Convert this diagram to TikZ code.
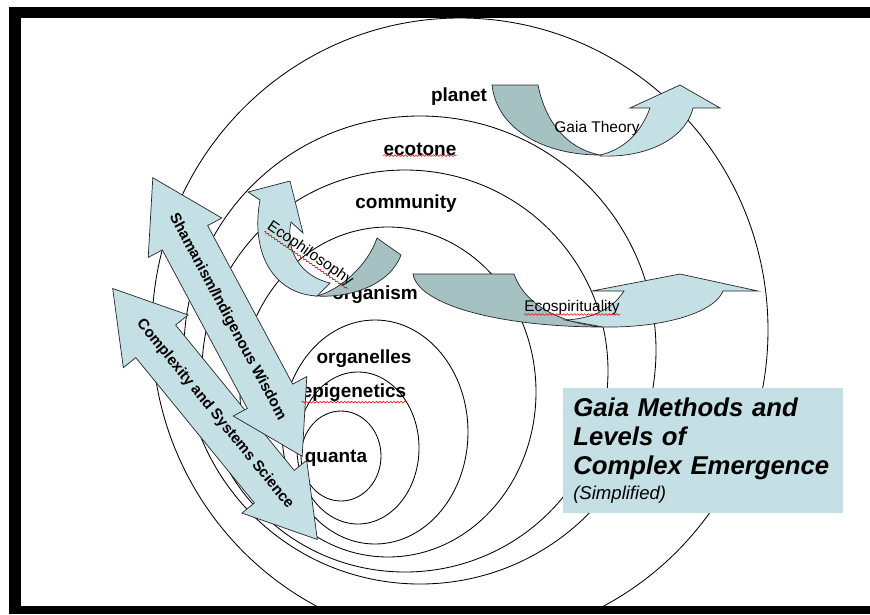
\documentclass[tikz,border=0pt]{standalone}
\usepackage{fontspec}
\setmainfont{Liberation Sans}
\usepackage{tikz}
\usetikzlibrary{shapes.arrows, decorations.pathmorphing}
\definecolor{arrowlight}{HTML}{C4E0E5}
\definecolor{arrowdark}{HTML}{A6C1C2}
\definecolor{titlefill}{HTML}{C4E0E5}

\begin{document}
\begin{tikzpicture}[
    x=0.025cm, y=-0.025cm,
    ring/.style={line width=0.6pt},
    lvl/.style={font=\fontsize{13.5}{16}\selectfont\bfseries, inner sep=0pt},
    banddark/.style={fill=arrowdark, draw=black!85, line width=0.5pt},
    bandlight/.style={fill=arrowlight, draw=black!85, line width=0.5pt},
    curvelabel/.style={font=\fontsize{11}{13}\selectfont, inner sep=0pt},
    methodarrow/.style={double arrow, draw=black!85, fill=arrowlight, line width=0.5pt,
        minimum height=7.67cm, double arrow head extend=0.4cm,
        double arrow tip angle=63, inner xsep=0pt, inner ysep=13pt,
        text height=7.8pt, text depth=2.3pt,
        font=\fontsize{10.7}{12}\selectfont\bfseries},
    titlebox/.style={anchor=north west, fill=titlefill, inner xsep=0.25cm, inner ysep=0pt,
        text width=6.5cm, minimum width=7cm, minimum height=3.125cm, align=left,
        font=\fontsize{18.3}{20.6}\selectfont\bfseries\itshape},
    squiggle/.style={red, line width=0.4pt, decorate,
        decoration={snake, amplitude=0.6pt, segment length=2.5pt}}
]
\useasboundingbox (0,0) rectangle (870,614);

% Levels of emergence
\begin{scope}
\clip (21,18) rectangle (870,606);
\draw[ring] (460,330) ellipse [x radius=308, y radius=312];
\draw[ring] (420,350) ellipse [x radius=236, y radius=234];
\draw[ring] (405,371) ellipse [x radius=203, y radius=201];
\draw[ring] (388,392) ellipse [x radius=148, y radius=165];
\draw[ring] (375,432) ellipse [x radius=93, y radius=112];
\draw[ring] (358,448) ellipse [x radius=61, y radius=76];
\draw[ring] (341,456) ellipse [x radius=40, y radius=45];
\end{scope}

\node[lvl] (planet) at (459,97) {planet};
\node[lvl] (ecotone) at (420,149) {ecotone};
\node[lvl] (community) at (406,204) {community};
\node[lvl] (organism) at (375,295) {organism};
\node[lvl] (organelles) at (364,359) {organelles};
\node[lvl] (epigen) at (354,393) {epigenetics};
\node[lvl] (quanta) at (336,458) {quanta};

% Gaia Theory
\draw[banddark] (492,85) -- (538,85) .. controls (545,120) and (565,148) .. (600,155)
    .. controls (545,155) and (497,130) .. (492,85) -- cycle;
\draw[bandlight] (600,156) .. controls (645,158) and (685,140) .. (693,108) -- (720,108)
    -- (680,85) -- (630,108) -- (650,108) .. controls (640,135) and (622,150) .. (600,155) -- cycle;
\node[curvelabel] (gaia) at (597,128) {Gaia Theory};

% Ecophilosophy
\draw[banddark] (377,238) -- (401,255) .. controls (390,285) and (350,298) .. (317,296)
    .. controls (340,290) and (368,265) .. (377,238) -- cycle;
\draw[bandlight] (317,296) .. controls (275,294) and (250,255) .. (260,200) -- (248,192)
    -- (290,181) -- (303,233) -- (291,222) .. controls (285,250) and (300,276) .. (330,283) -- cycle;
\node[curvelabel, rotate=-34.6] (ephil) at (310,254) {Ecophilosophy};

% Ecospirituality
\draw[banddark] (413,274) -- (514,274) .. controls (525,305) and (560,323) .. (603,327)
    .. controls (500,327) and (418,305) .. (413,274) -- cycle;
\draw[bandlight] (603,327) .. controls (665,328) and (715,312) .. (723,291) -- (758,291)
    -- (680,274) -- (592,291) -- (624,291) .. controls (612,310) and (590,319) .. (565,320) -- cycle;
\node[curvelabel] (espir) at (572,307) {Ecospirituality};

% Methods
\node[methodarrow, rotate=-50.8] (complexity) at (215,414) {Complexity and Systems Science};
\node[methodarrow, rotate=-61.8] (shaman) at (227.5,317) {Shamanism/Indigenous Wisdom};

% Title
\node[titlebox] (title) at (563,388) {Gaia Methods and\\ Levels of\\ Complex Emergence\\[-2.8pt]
    {\fontsize{13.2}{15}\selectfont\mdseries\itshape (Simplified)}};

% spelling marks
\draw[squiggle] (ecotone.south west) -- (ecotone.south east);
\draw[squiggle] (epigen.south west) -- (epigen.south east);
\draw[squiggle] (ephil.south west) -- (ephil.south east);
\draw[squiggle] (espir.south west) -- (espir.south east);

% frame
\fill (9,7) rectangle (870,18);
\fill (9,7) rectangle (21,614);
\fill (9,606) rectangle (870,614);
\end{tikzpicture}
\end{document}
